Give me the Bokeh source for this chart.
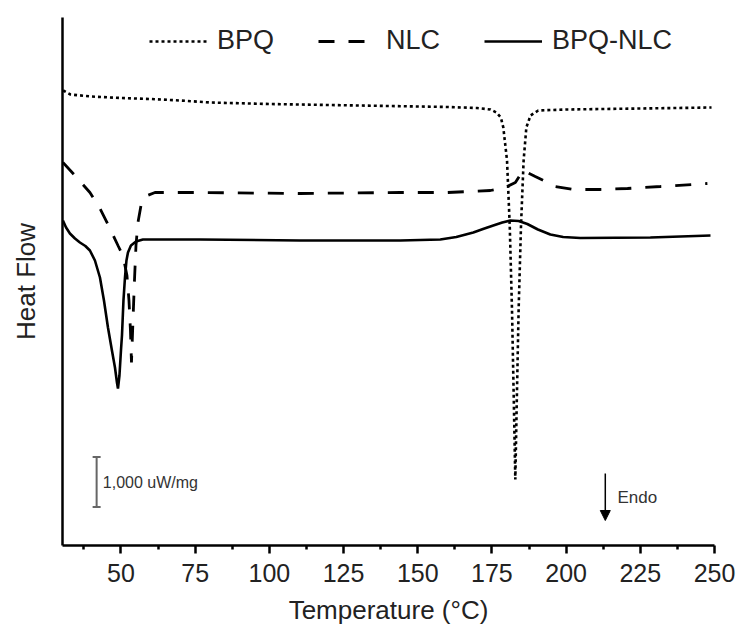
from bokeh.plotting import figure
from bokeh.models import Range1d, FixedTicker, Legend, LegendItem, Label, Arrow, NormalHead
from bokeh.embed import file_html
from bokeh.resources import INLINE

# ---- data (Temperature in °C, heat flow in mW/mg, arbitrary offset) ----
bpq_t = [30.5, 33, 40, 50, 60, 70, 80, 100, 120, 140, 160, 170, 174.5, 176.5, 178.0,
         178.84, 180.09, 181.0, 181.77, 182.37, 182.88, 183.38, 183.99, 184.8, 185.68,
         186.6, 188, 190.6, 200, 225, 249]
bpq_hf = [9.10, 9.02, 8.98, 8.95, 8.93, 8.90, 8.86, 8.83, 8.81, 8.79, 8.77, 8.75, 8.72,
          8.66, 8.56, 8.36, 7.70, 6.4, 4.70, 2.90, 1.32, 2.90, 4.70, 6.4, 7.70, 8.36,
          8.6, 8.70, 8.72, 8.74, 8.76]

nlc_t = [30.44, 34.49, 39.54, 42.92, 46.29, 48.99, 50.67, 52.02, 52.70, 53.2, 53.54,
         54.05, 54.55, 55.06, 55.73, 56.75, 58.09, 61.47, 76.6, 110.4, 144.1, 160.0,
         174.5, 179.5, 182.9, 184.6, 185.2, 186.9, 189.6, 193.0, 196.4, 202.4, 211.5,
         220.7, 231.8, 247.6]
nlc_hf = [7.66, 7.40, 7.06, 6.74, 6.34, 6.00, 5.80, 5.40, 4.90, 4.30, 3.66,
          4.50, 5.30, 6.00, 6.46, 6.80, 6.98, 7.06, 7.06, 7.04, 7.06, 7.06,
          7.10, 7.16, 7.26, 7.42, 7.50, 7.46, 7.38, 7.28, 7.18, 7.12, 7.12,
          7.14, 7.18, 7.24]

mix_t = [30.44, 31.5, 32.8, 34.5, 36.17, 38.0, 39.54, 41.23, 42.92, 44.27, 45.62, 46.96,
         47.98, 48.65, 48.99, 49.49, 50.0, 50.34, 50.84, 51.35, 51.85, 52.36, 53.37,
         55.06, 57.42, 76.64, 110.37, 144.1, 157.59, 163.0, 168.72, 172.0, 175.46,
         178.5, 181.2, 184.0, 186.93, 190.5, 194.69, 199.0, 204.8, 228.4, 248.65]
mix_hf = [6.50, 6.36, 6.24, 6.14, 6.06, 5.99, 5.90, 5.70, 5.36, 4.90, 4.36, 3.90,
          3.56, 3.26, 3.14, 3.40, 3.90, 4.20, 4.90, 5.36, 5.70, 5.86, 6.00,
          6.08, 6.12, 6.12, 6.10, 6.10, 6.12, 6.17, 6.26, 6.33, 6.40, 6.46, 6.50,
          6.49, 6.43, 6.32, 6.22, 6.17, 6.15, 6.16, 6.20]

x_ticks = [50, 75, 100, 125, 150, 175, 200, 225, 250]
x_minor = [37.5, 62.5, 87.5, 112.5, 137.5, 162.5, 187.5, 212.5, 237.5]
scale_bar = [0.77, 1.77]      # 1,000 uW/mg
scale_bar_t = 41.8
endo_t = 213.2
endo_hf = [1.44, 0.50]

FONT = "Liberation Sans"
INK = "#222222"

p = figure(width=739, height=635, output_backend="svg", toolbar_location=None,
           x_range=Range1d(30.3, 250), y_range=Range1d(0, 10.56),
           min_border_left=62, min_border_right=25, min_border_top=17, min_border_bottom=90)
p.outline_line_color = None
p.grid.visible = False
p.background_fill_color = "white"
p.border_fill_color = "white"

r_bpq = p.line(bpq_t, bpq_hf, line_color="black", line_width=2.6, line_dash="3 3")
r_nlc = p.line(nlc_t, nlc_hf, line_color="black", line_width=2.8, line_dash="16 14")
r_mix = p.line(mix_t, mix_hf, line_color="black", line_width=2.6)

# scale bar
p.segment(x0=[scale_bar_t], y0=[scale_bar[0]], x1=[scale_bar_t], y1=[scale_bar[1]],
          line_color="#666666", line_width=2)
p.scatter([scale_bar_t, scale_bar_t], scale_bar, marker="dash", size=8,
          line_color="#666666", line_width=2)
p.add_layout(Label(x=scale_bar_t + 2.1, y=(scale_bar[0] + scale_bar[1]) / 2,
                   text="1,000 uW/mg", text_font=FONT, text_font_size="16px",
                   text_color="#333333", text_baseline="middle", text_align="left"))

# endo arrow
p.add_layout(Arrow(x_start=endo_t, y_start=endo_hf[0], x_end=endo_t, y_end=endo_hf[1],
                   line_width=1.5, line_color="black",
                   end=NormalHead(size=10, fill_color="black", line_color="black")))
p.add_layout(Label(x=endo_t + 4.1, y=0.96, text="Endo", text_font=FONT,
                   text_font_size="17px", text_color="#333333",
                   text_baseline="middle", text_align="left"))

# axes
xa = p.xaxis[0]
xa.ticker = FixedTicker(ticks=x_ticks, minor_ticks=x_minor)
xa.axis_label = "Temperature (°C)"
xa.axis_line_width = 2.5
xa.major_tick_line_width = 2.5
xa.minor_tick_line_width = 2.5
xa.major_tick_out = 8
xa.major_tick_in = 0
xa.minor_tick_out = 4
xa.minor_tick_in = 0
xa.major_label_text_font = FONT
xa.major_label_text_font_size = "25px"
xa.major_label_text_color = INK
xa.major_label_standoff = 10
xa.axis_label_text_font = FONT
xa.axis_label_text_font_size = "26px"
xa.axis_label_text_font_style = "normal"
xa.axis_label_text_color = INK
xa.axis_label_standoff = 10

ya = p.yaxis[0]
ya.ticker = FixedTicker(ticks=[])
ya.axis_line_width = 2.5
ya.major_tick_out = 0
ya.minor_tick_out = 0
ya.axis_label = "Heat Flow"
ya.axis_label_text_font = FONT
ya.axis_label_text_font_size = "26px"
ya.axis_label_text_font_style = "normal"
ya.axis_label_text_color = INK
ya.axis_label_standoff = 22

legend = Legend(items=[LegendItem(label="BPQ", renderers=[r_bpq]),
                       LegendItem(label="NLC", renderers=[r_nlc]),
                       LegendItem(label="BPQ-NLC", renderers=[r_mix])],
                orientation="horizontal", location=(87, 489),
                glyph_width=58, glyph_height=20, label_standoff=10, spacing=44,
                padding=0, margin=0, border_line_color=None, background_fill_alpha=0,
                label_text_font=FONT, label_text_font_size="27px", label_text_color=INK)
p.add_layout(legend)

open("out.html", "w").write(file_html(p, INLINE))
